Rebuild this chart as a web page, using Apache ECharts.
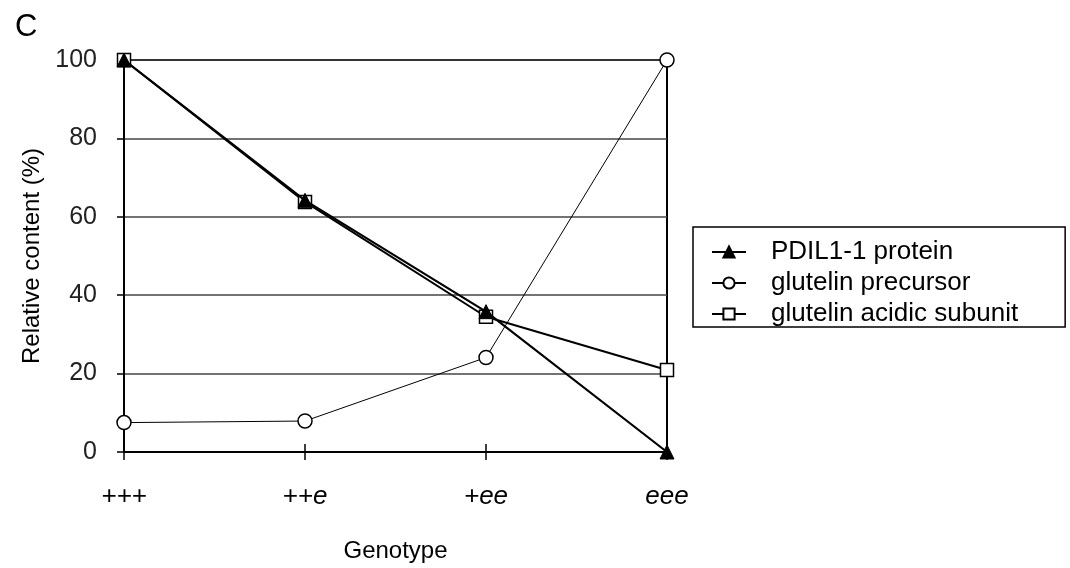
<!DOCTYPE html>
<html><head><meta charset="utf-8">
<script src="https://cdn.jsdelivr.net/npm/echarts@6/dist/echarts.min.js"></script>
<style>html,body{margin:0;padding:0;background:#fff;overflow:hidden}#c{width:1070px;height:568px}</style>
</head><body><div id="c"></div>
<script>
const categories = ['+++', '++e', '+ee', 'eee'];
const pdil = [100, 64.2, 35.8, 0];
const precursor = [7.5, 7.9, 24.1, 100];
const acidic = [100, 63.8, 34.5, 20.9];
const yTicks = [0, 20, 40, 60, 80, 100];

const FONT = 'Liberation Sans, Arial, sans-serif';
const chart = echarts.init(document.getElementById('c'), null, {renderer: 'canvas'});
chart.setOption({
  animation: false,
  backgroundColor: '#fff',
  title: {text: 'C', left: 15, top: 12, padding: 0, textStyle: {fontFamily: FONT, fontSize: 31, fontWeight: 'normal', color: '#000'}},
  grid: {left: 124, width: 543, top: 60, height: 392, show: true, borderColor: '#000', borderWidth: 2, backgroundColor: 'transparent'},
  legend: {
    orient: 'vertical', left: 693, top: 227,
    data: ['PDIL1-1 protein', 'glutelin precursor', 'glutelin acidic subunit'],
    borderColor: '#000', borderWidth: 1.5, padding: [12, 47, 0, 18],
    itemWidth: 34, itemHeight: 14, itemGap: 5,
    textStyle: {fontFamily: FONT, fontSize: 26, color: '#000', padding: [0, 0, 0, 20]}
  },
  xAxis: [{
    type: 'category', data: categories, boundaryGap: false,
    name: 'Genotype', nameLocation: 'middle', nameGap: 87,
    nameTextStyle: {fontFamily: FONT, fontSize: 24, color: '#000'},
    axisLine: {lineStyle: {color: '#000', width: 2}},
    axisTick: {show: true, length: 8, lineStyle: {color: '#000', width: 1.5}},
    axisLabel: {margin: 32, fontFamily: FONT, fontSize: 26, fontStyle: 'italic', color: '#000'},
    splitLine: {show: false}
  }, {
    type: 'category', data: categories, boundaryGap: false, position: 'bottom',
    axisLine: {show: false},
    axisTick: {show: true, inside: true, length: 8, lineStyle: {color: '#000', width: 1.5}},
    axisLabel: {show: false}, splitLine: {show: false}
  }],
  yAxis: {
    type: 'value', min: 0, max: 100, interval: 20,
    name: 'Relative content (%)', nameLocation: 'middle', nameGap: 65,
    nameTextStyle: {fontFamily: FONT, fontSize: 24, color: '#000'},
    axisLine: {show: true, lineStyle: {color: '#000', width: 2}},
    axisTick: {show: true, length: 7, lineStyle: {color: '#000', width: 1.5}},
    axisLabel: {margin: 27, fontFamily: FONT, fontSize: 25, color: '#222',
      formatter: v => yTicks.includes(v) ? String(v) : ''},
    splitLine: {show: true, lineStyle: {color: '#444', width: 1.5}}
  },
  series: [
    {name: 'PDIL1-1 protein', type: 'line', data: pdil, z: 5,
     symbol: 'triangle', symbolSize: 14,
     itemStyle: {color: '#000', borderColor: '#000', borderWidth: 1},
     lineStyle: {color: '#000', width: 2.2}},
    {name: 'glutelin precursor', type: 'line', data: precursor, z: 3,
     symbol: 'circle', symbolSize: 14,
     itemStyle: {color: '#fff', borderColor: '#000', borderWidth: 1.5},
     lineStyle: {color: '#000', width: 1}},
    {name: 'glutelin acidic subunit', type: 'line', data: acidic, z: 4,
     symbol: 'rect', symbolSize: 13,
     itemStyle: {color: '#fff', borderColor: '#000', borderWidth: 1.5},
     lineStyle: {color: '#000', width: 2}}
  ]
});
</script></body></html>
